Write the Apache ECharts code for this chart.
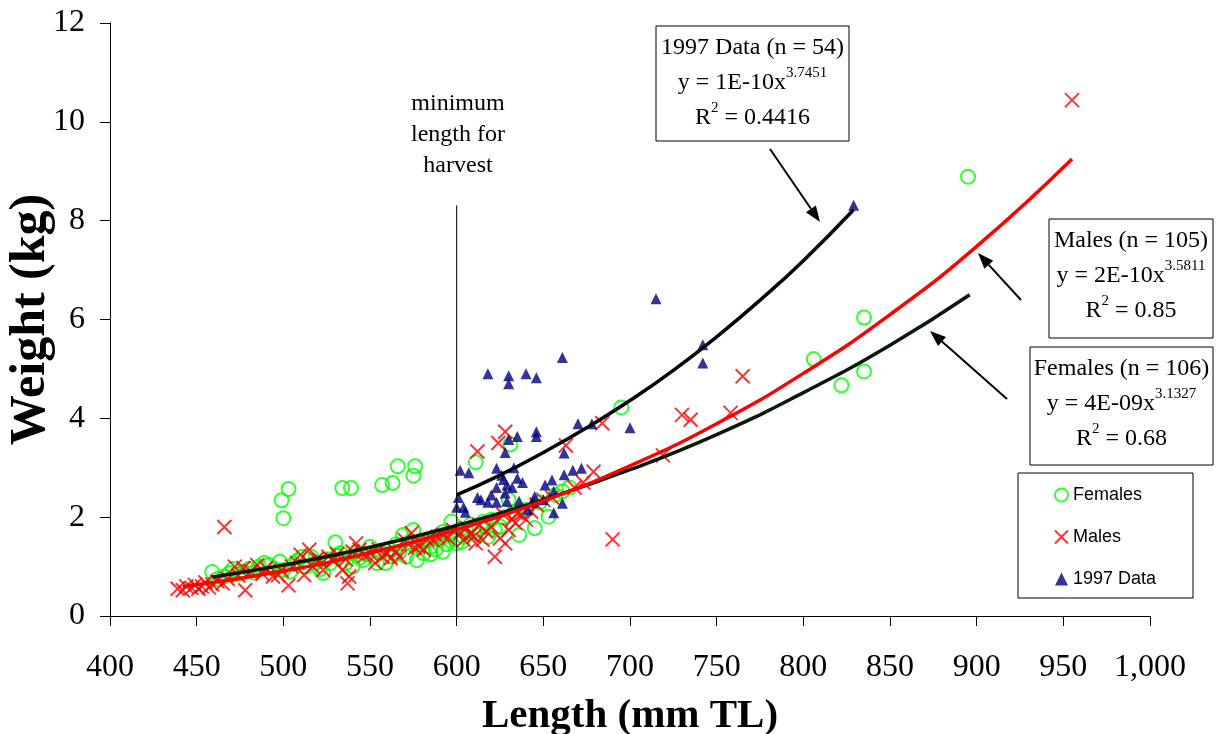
<!DOCTYPE html>
<html><head><meta charset="utf-8">
<script src="https://cdn.jsdelivr.net/npm/echarts@6/dist/echarts.min.js"></script>
<style>html,body{margin:0;padding:0;background:#fff}#c{width:1222px;height:734px}</style>
</head><body><div id="c"></div>
<script>
// ---- data ----
const xTickLabels = ['400','450','500','550','600','650','700','750','800','850','900','950','1,000'];
const yTickLabels = ['0','2','4','6','8','10','12'];

const females = [
 [459,0.89],[462,0.75],[466,0.80],[469,0.87],[471,0.95],[474,0.85],[477,0.90],[480,0.95],[483,0.88],[486,1.00],
 [489,1.07],[492,1.03],[495,0.95],[498,1.10],[499,2.34],[500,1.98],[500,0.93],[503,2.57],[504,0.90],[506,1.05],
 [508,1.12],[511,1.20],[513,1.00],[516,1.20],[519,1.08],[521,0.95],[523,0.87],[525,1.15],[527,1.07],[530,1.49],
 [531,1.22],[533,1.27],[534,2.59],[536,1.07],[539,2.59],[540,1.00],[542,1.30],[544,1.18],[546,1.13],[548,1.25],
 [550,1.40],[552,1.20],[554,1.07],[556,1.30],[557,2.65],[559,1.07],[561,1.35],[563,2.69],[563,1.20],[565,1.45],
 [566,3.03],[567,1.30],[569,1.64],[571,1.20],[573,1.50],[575,1.74],[575,2.84],[576,3.03],[577,1.13],[579,1.45],
 [581,1.27],[583,1.54],[585,1.40],[587,1.60],[588,1.35],[590,1.54],[592,1.70],[594,1.45],[596,1.62],[597,1.91],
 [599,1.55],[600,1.47],[602,1.75],[604,1.60],[606,1.68],[608,1.85],[610,1.72],[611,3.11],[613,1.65],[615,1.90],
 [617,1.80],[620,1.95],[622,1.75],[625,1.81],[627,2.00],[630,2.35],[631,3.47],[633,2.10],[636,1.64],[640,2.15],
 [645,1.78],[648,2.30],[653,2.01],[657,2.45],[661,2.52],[665,2.60],[695,4.22],[806,5.20],[822,4.67],[835,6.04],
 [835,4.95],[895,8.89],[585,1.25],[592,1.30],[603,1.50],[618,1.60]
];
const males = [
 [439,0.55],[442,0.52],[444,0.60],[447,0.57],[449,0.63],[451,0.55],[453,0.60],[455,0.68],[457,0.58],[459,0.64],
 [462,0.70],[465,0.66],[466,1.80],[468,0.75],[472,1.00],[474,0.82],[477,0.97],[478,0.52],[481,0.90],[485,1.03],
 [488,0.85],[490,0.97],[494,0.80],[497,0.83],[499,0.92],[503,0.62],[505,1.00],[508,1.07],[510,1.24],[512,0.83],
 [515,1.34],[517,1.00],[519,1.15],[521,1.13],[523,0.93],[526,1.20],[529,1.13],[531,1.25],[534,0.93],[536,1.15],
 [537,0.66],[538,0.80],[540,1.30],[542,1.47],[544,1.34],[547,1.22],[550,1.27],[553,1.07],[555,1.35],[557,1.20],
 [560,1.27],[562,1.17],[565,1.30],[567,1.20],[570,1.54],[572,1.45],[574,1.68],[576,1.38],[578,1.40],[581,1.34],
 [583,1.54],[586,1.54],[589,1.60],[592,1.64],[595,1.58],[598,1.74],[602,1.68],[604,1.54],[606,1.78],[608,1.65],
 [610,1.61],[611,1.47],[612,3.33],[613,1.84],[615,1.54],[617,1.71],[620,1.80],[622,1.20],[624,3.50],[625,1.57],
 [627,2.05],[628,1.47],[628,3.73],[630,1.74],[632,1.95],[634,1.88],[635,2.08],[637,2.05],[640,1.95],[643,2.11],
 [646,2.25],[650,2.35],[655,2.40],[663,3.45],[668,2.60],[673,2.70],[679,2.92],[684,3.90],[690,1.55],[719,3.25],
 [730,4.07],[735,3.97],[758,4.11],[765,4.85],[955,10.44]
];
const data1997 = [
 [600,2.20],[601,2.40],[602,2.95],[605,2.10],[607,2.90],[614,2.35],[618,4.90],[618,2.30],[623,2.30],[623,2.60],
 [623,2.99],[627,2.76],[628,3.31],[629,2.65],[628,2.49],[629,2.32],[635,2.79],[636,2.32],[641,2.15],[645,2.42],
 [651,2.65],[656,2.52],[656,2.09],[661,2.28],[662,2.86],[662,3.30],[672,2.99],[630,3.57],[635,3.63],[646,3.73],
 [646,3.63],[630,4.86],[630,4.70],[640,4.90],[646,4.82],[661,5.23],[670,3.89],[678,3.89],[700,3.81],[715,6.42],
 [742,5.49],[742,5.12],[829,8.31],[612,2.40],[620,2.45],[626,2.85],[632,2.60],[638,2.70],[644,2.30],[650,2.35],
 [655,2.75],[604,2.20],[667,2.95],[633,3.00]
];
// trend curves as drawn
const fit1997Length = [600,625,650,675,700,725,750,775,800,829];
const fit1997Weight = [2.45,2.85,3.31,3.81,4.36,4.97,5.65,6.39,7.19,8.22];
const fitMaleLength = [442,500,550,600,650,700,750,800,850,900,955];
const fitMaleWeight = [0.59,0.91,1.28,1.75,2.33,3.04,3.89,4.91,6.10,7.48,9.25];
const fitFemaleLength = [459,500,550,600,650,700,750,800,850,896];
const fitFemaleWeight = [0.79,1.03,1.39,1.83,2.35,2.96,3.67,4.52,5.48,6.50];
const harvestLength = 600, harvestLineTop = 8.31;

const zip = (a,b) => a.map((v,i)=>[v,b[i]]);
const SERIF = "'Liberation Serif','Times New Roman',serif";
const SANS = "'Liberation Sans',Arial,sans-serif";

const chart = echarts.init(document.getElementById('c'), null, {renderer:'canvas'});

function arrow(x1,y1,x2,y2){
  const L=16, W=6;
  const dx=x2-x1, dy=y2-y1, d=Math.hypot(dx,dy), ux=dx/d, uy=dy/d;
  const bx=x2-ux*L, by=y2-uy*L;
  return [
    {type:'line', shape:{x1:x1,y1:y1,x2:bx,y2:by}, style:{stroke:'#000',lineWidth:2}, z:100},
    {type:'polygon', shape:{points:[[x2,y2],[bx-uy*W,by+ux*W],[bx+uy*W,by-ux*W]]}, style:{fill:'#000'}, z:100}
  ];
}
const richStyle = {
  a:{fontSize:24, fontFamily:SERIF, lineHeight:28, color:'#000'},
  s:{fontSize:15, fontFamily:SERIF, lineHeight:15, padding:[0,0,20,0], color:'#000'}
};
function box(x,y,w,h,lines){
  const els=[{type:'rect', shape:{x:x,y:y,width:w,height:h}, style:{fill:'#fff',stroke:'#000',lineWidth:1}, z:90}];
  const cx=x+w/2;
  lines.forEach((t,i)=>{
    els.push({type:'text', x:cx, y:y+22+i*35, z:95,
      style:{text:t, rich:richStyle, align:'center', verticalAlign:'middle', font:'24px '+SERIF, fill:'#000'}});
  });
  return els;
}

const graphics = [].concat(
  box(656,26,193,115,['{a|1997 Data (n = 54)}','{a|y = 1E-10x}{s|3.7451}','{a|R}{s|2}{a| = 0.4416}']),
  box(1049,219,164,119,['{a|Males (n = 105)}','{a|y = 2E-10x}{s|3.5811}','{a|R}{s|2}{a| = 0.85}']),
  box(1030,347,183,118,['{a|Females (n = 106)}','{a|y = 4E-09x}{s|3.1327}','{a|R}{s|2}{a| = 0.68}']),
  arrow(770,149,820,222),
  arrow(1021,300,978,253),
  arrow(1007,399,930,331),
  [{type:'rect', shape:{x:1018,y:473,width:175,height:125}, style:{fill:'#fff',stroke:'#000',lineWidth:1}, z:1},
   {type:'text', x:458, y:135, z:50, style:{text:'minimum\nlength for\nharvest', font:'24px '+SERIF, lineHeight:31, align:'center', verticalAlign:'middle', fill:'#000'}}]
);

const option = {
  animation:false,
  backgroundColor:'#fff',
  grid:{left:110, right:72, top:23, bottom:118, containLabel:false, outerBoundsMode:'none'},
  xAxis:{type:'value', min:400, max:1000, interval:50,
    name:'Length (mm TL)', nameLocation:'middle', nameGap:80, nameMoveOverlap:false,
    nameTextStyle:{fontFamily:SERIF, fontWeight:'bold', fontSize:41, color:'#000'},
    axisLine:{show:true, onZero:false, lineStyle:{color:'#000', width:1}},
    axisTick:{show:true, inside:false, length:10, lineStyle:{color:'#000'}},
    axisLabel:{margin:36, fontFamily:SERIF, fontSize:32, color:'#000', formatter:v=>xTickLabels[Math.round((v-400)/50)]},
    splitLine:{show:false}},
  yAxis:{type:'value', min:0, max:12, interval:2,
    name:'Weight (kg)', nameLocation:'middle', nameGap:54, nameMoveOverlap:false,
    nameTextStyle:{fontFamily:SERIF, fontWeight:'bold', fontSize:50, color:'#000'},
    axisLine:{show:true, lineStyle:{color:'#000', width:1}},
    axisTick:{show:true, inside:false, length:10, lineStyle:{color:'#000'}},
    axisLabel:{margin:25, fontFamily:SERIF, fontSize:32, color:'#000', formatter:v=>yTickLabels[Math.round(v/2)]},
    splitLine:{show:false}},
  legend:{orient:'vertical', left:1049, top:481, itemGap:24, itemWidth:13, itemHeight:13,
    textStyle:{fontFamily:SANS, fontSize:18, color:'#000'},
    data:['Females','Males','1997 Data'], z:5},
  graphic:graphics,
  series:[
    {name:'Females', type:'scatter', data:females, symbol:'circle', symbolSize:14, z:2,
      itemStyle:{color:'rgba(255,255,255,0)', borderColor:'#00ff00', borderWidth:2}},
    {name:'Males', type:'scatter', data:males, symbol:'path://M0,0L10,10M10,0L0,10', symbolSize:14, z:3,
      itemStyle:{color:'#ff0000', borderColor:'#ff0000', borderWidth:2}},
    {name:'1997 Data', type:'scatter', data:data1997, symbol:'triangle', symbolSize:11, z:4,
      itemStyle:{color:'#000080'}},
    {name:'fitFemale', type:'line', data:zip(fitFemaleLength,fitFemaleWeight), smooth:true, showSymbol:false, symbol:'none', z:6,
      lineStyle:{color:'#061a06', width:3.5}},
    {name:'fitMale', type:'line', data:zip(fitMaleLength,fitMaleWeight), smooth:true, showSymbol:false, symbol:'none', z:7,
      lineStyle:{color:'#ff0000', width:3.5}},
    {name:'fit1997', type:'line', data:zip(fit1997Length,fit1997Weight), smooth:true, showSymbol:false, symbol:'none', z:6,
      lineStyle:{color:'#000', width:3.5}},
    {name:'harvest', type:'line', data:[[harvestLength,0],[harvestLength,harvestLineTop]], showSymbol:false, symbol:'none', z:5,
      lineStyle:{color:'#000', width:1}}
  ]
};
chart.setOption(option);
</script></body></html>
